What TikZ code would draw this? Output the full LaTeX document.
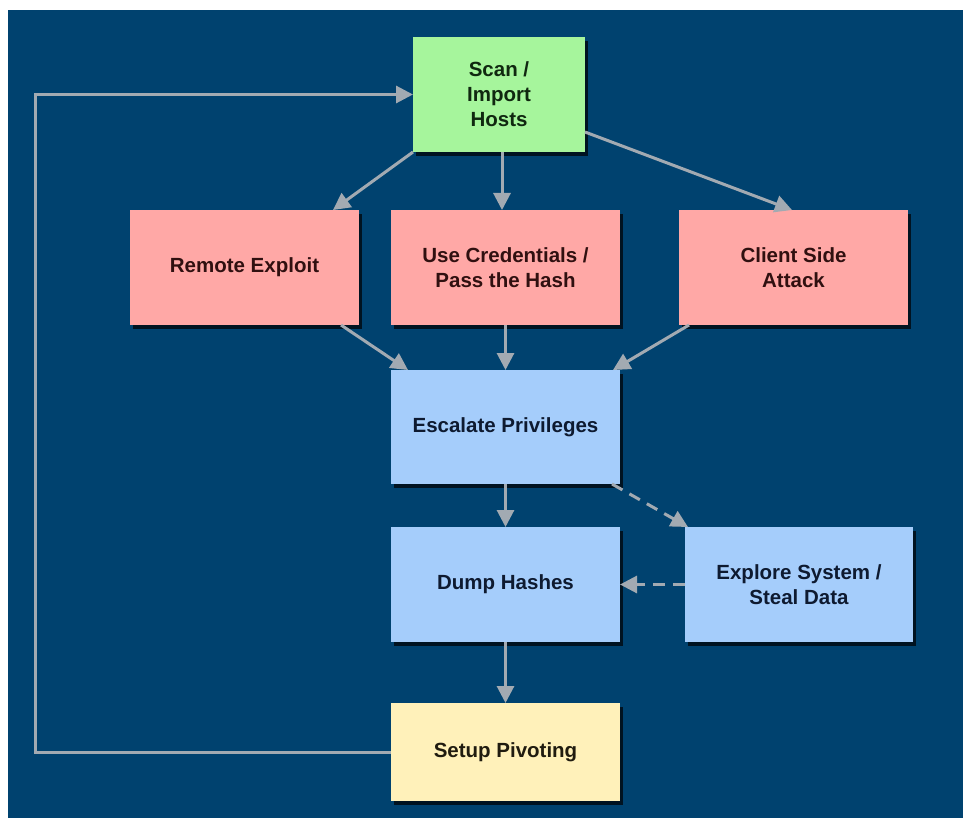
\documentclass[tikz,border=0pt]{standalone}
\usepackage{fontspec}
\setmainfont{Liberation Sans}
\usetikzlibrary{arrows.meta,shadows,calc}
\definecolor{bgblue}{HTML}{00426F}
\definecolor{greenbox}{HTML}{A6F59C}
\definecolor{pinkbox}{HTML}{FFA8A6}
\definecolor{bluebox}{HTML}{A5CDFB}
\definecolor{yellowbox}{HTML}{FFF1BA}
\definecolor{arrgray}{HTML}{A2AAB2}
\definecolor{txtgreen}{HTML}{102810}
\definecolor{txtpink}{HTML}{301010}
\definecolor{txtblue}{HTML}{0E1A30}
\definecolor{txtyellow}{HTML}{201C10}
\tikzset{
  box/.style={rectangle, inner sep=0pt, outer sep=0pt, align=center,
    font=\fontsize{20.5}{25}\selectfont\bfseries,
    drop shadow={shadow xshift=3pt, shadow yshift=-4pt, opacity=0.7, fill=black}},
  greenb/.style={box, fill=greenbox, text=txtgreen},
  pinkb/.style={box, fill=pinkbox, text=txtpink},
  blueb/.style={box, fill=bluebox, text=txtblue},
  yellowb/.style={box, fill=yellowbox, text=txtyellow},
  arr/.style={draw=arrgray, line width=3pt, -{Triangle[length=17pt,width=17pt]}},
  dasharr/.style={arr, dash pattern=on 12pt off 8pt}
}
\begin{document}
\begin{tikzpicture}[x=1pt,y=-1pt]
\useasboundingbox (0,0) rectangle (963,818);
\fill[white] (0,0) rectangle (963,818);
\fill[bgblue] (8,10) rectangle (963,818);

\node[greenb, minimum width=172pt, minimum height=115pt] (scan) at (499,94.5) {Scan /\\Import\\Hosts};
\node[pinkb, minimum width=229pt, minimum height=115pt] (remote) at (244.5,267.5) {Remote Exploit};
\node[pinkb, minimum width=229pt, minimum height=115pt] (cred) at (505.5,267.5) {Use Credentials /\\Pass the Hash};
\node[pinkb, minimum width=229pt, minimum height=115pt] (client) at (793.5,267.5) {Client Side\\Attack};
\node[blueb, minimum width=229pt, minimum height=114pt] (esc) at (505.5,427) {Escalate Privileges};
\node[blueb, minimum width=229pt, minimum height=115pt] (dump) at (505.5,584.5) {Dump Hashes};
\node[blueb, minimum width=228pt, minimum height=115pt] (explore) at (799,584.5) {Explore System /\\Steal Data};
\node[yellowb, minimum width=229pt, minimum height=98pt] (setup) at (505.5,752) {Setup Pivoting};

\coordinate (loopc) at (35,0);

\draw[arr] (scan.south west) -- ($(remote.north east)+(-26,0)$);
\draw[arr] ($(scan.south)+(3,0)$) -- ($(cred.north)+(-3.5,0)$);
\draw[arr] ($(scan.south east)+(0,-20)$) -- ($(client.north west)+(113,0)$);
\draw[arr] ($(remote.south east)+(-18,0)$) -- ($(esc.north west)+(17,0)$);
\draw[arr] (cred.south) -- (esc.north);
\draw[arr] ($(client.south west)+(10,0)$) -- ($(esc.north east)+(-7,0)$);
\draw[arr] (esc.south) -- (dump.north);
\draw[dasharr] ($(esc.south east)+(-8,0)$) -- ($(explore.north west)+(3,0)$);
\draw[dasharr] (explore.west) -- (dump.east);
\draw[arr] (dump.south) -- (setup.north);
\draw[arr] (setup.west) -- (setup.west -| loopc) -- (loopc |- scan.west) -- (scan.west);
\end{tikzpicture}
\end{document}
